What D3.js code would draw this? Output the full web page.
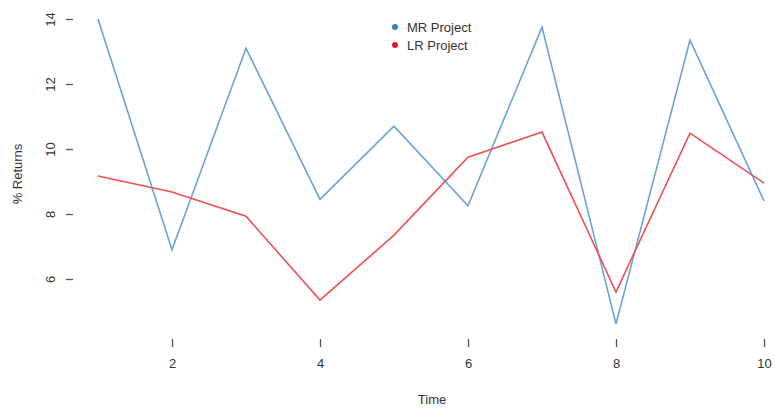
<!DOCTYPE html>
<html>
<head>
<meta charset="utf-8">
<script src="https://cdn.jsdelivr.net/npm/d3@7"></script>
<style>
  html, body { margin: 0; padding: 0; background: #fff; }
  svg { display: block; }
  text { font-family: "Liberation Sans", Arial, sans-serif; fill: #333; }
</style>
</head>
<body>
<svg id="chart" width="775" height="410"></svg>
<script>
// Returns (%) by period for two projects
const time = [1, 2, 3, 4, 5, 6, 7, 8, 9, 10];
const mrProject = [14.0, 6.9, 13.1, 8.45, 10.7, 8.25, 13.75, 4.62, 13.35, 8.4];
const lrProject = [9.17, 8.68, 7.93, 5.35, 7.35, 9.75, 10.52, 5.6, 10.49, 8.95];
const xTicks = [2, 4, 6, 8, 10];
const yTicks = [6, 8, 10, 12, 14];
const seriesNames = ["MR Project", "LR Project"];
const seriesColors = ["#6aa3d8", "#ee4f55"];
const legendColors = ["#3b80c4", "#e8191e"];

const svg = d3.select("#chart");

const x = d3.scaleLinear().domain([1, 10]).range([98, 764]);
const y = d3.scaleLinear().domain([6, 14]).range([279, 19]);

// y axis: tick marks with rotated labels, no domain line
const yAxis = svg.append("g").attr("transform", "translate(73,0)")
  .call(d3.axisLeft(y).tickValues(yTicks).tickSize(7).tickPadding(0).tickFormat(d3.format("d")));
yAxis.select(".domain").remove();
yAxis.selectAll(".tick line").attr("stroke", "#555").attr("stroke-width", 1.3);
yAxis.selectAll(".tick text")
  .attr("x", 0).attr("dy", 0)
  .attr("transform", "translate(-18,0) rotate(-90)")
  .attr("text-anchor", "middle")
  .attr("font-size", 13)
  .style("font-family", "'Liberation Sans', Arial, sans-serif")
  .attr("fill", "#333");

// x axis
const xAxis = svg.append("g").attr("transform", "translate(0,339)")
  .call(d3.axisBottom(x).tickValues(xTicks).tickSize(8).tickPadding(12).tickFormat(d3.format("d")));
xAxis.select(".domain").remove();
xAxis.selectAll(".tick line").attr("stroke", "#555").attr("stroke-width", 1.3);
xAxis.selectAll(".tick text")
  .attr("font-size", 13)
  .style("font-family", "'Liberation Sans', Arial, sans-serif")
  .attr("fill", "#333");

// axis titles
svg.append("text").attr("x", 432).attr("y", 404)
  .attr("text-anchor", "middle").attr("font-size", 13).text("Time");
svg.append("text").attr("transform", "translate(22,174) rotate(-90)")
  .attr("text-anchor", "middle").attr("font-size", 13).text("% Returns");

// series lines
const line = d3.line().x((d, i) => x(time[i])).y(d => y(d));
[mrProject, lrProject].forEach((vals, k) => {
  svg.append("path").datum(vals)
    .attr("d", line)
    .attr("fill", "none")
    .attr("stroke", seriesColors[k])
    .attr("stroke-width", 1.6)
    .attr("stroke-linejoin", "miter");
});

// legend
const legend = svg.append("g");
seriesNames.forEach((name, k) => {
  const ly = 27 + k * 18;
  legend.append("circle").attr("cx", 395).attr("cy", ly).attr("r", 3).attr("fill", legendColors[k]);
  legend.append("text").attr("x", 407).attr("y", ly + 5)
    .attr("font-size", 13).attr("fill", "#333").text(name);
});
</script>
</body>
</html>
